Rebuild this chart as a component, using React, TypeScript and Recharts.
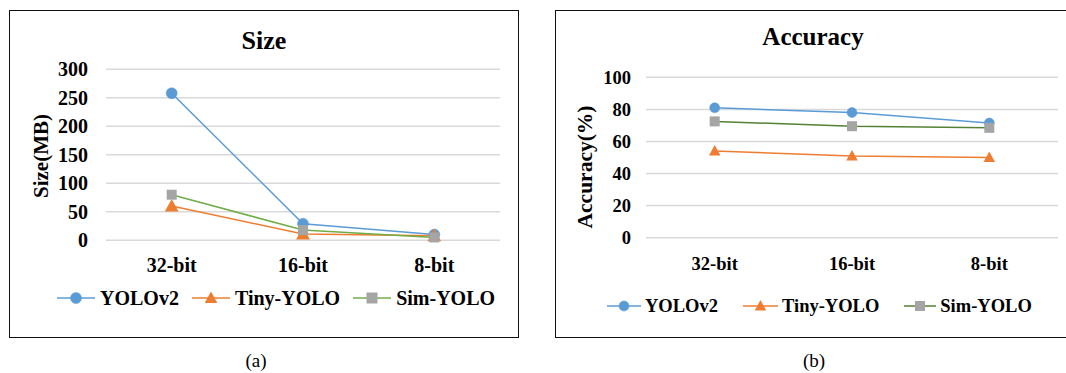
import React from 'react';
import { LineChart, Line, XAxis, YAxis, CartesianGrid, Legend } from 'recharts';

const categories = ['32-bit', '16-bit', '8-bit'];
const seriesNames = ['YOLOv2', 'Tiny-YOLO', 'Sim-YOLO'];

const sizeYOLOv2 = [258, 29, 10];
const sizeTinyYOLO = [60, 11, 8];
const sizeSimYOLO = [80, 18, 5];

const accYOLOv2 = [81, 78, 71.5];
const accTinyYOLO = [54, 51, 50];
const accSimYOLO = [72.5, 69.5, 68.5];

const sizeTicks = [0, 50, 100, 150, 200, 250, 300];
const accTicks = [0, 20, 40, 60, 80, 100];

const sizeData = categories.map((c, i) => ({
  cat: c,
  YOLOv2: sizeYOLOv2[i],
  'Tiny-YOLO': sizeTinyYOLO[i],
  'Sim-YOLO': sizeSimYOLO[i],
}));
const accData = categories.map((c, i) => ({
  cat: c,
  YOLOv2: accYOLOv2[i],
  'Tiny-YOLO': accTinyYOLO[i],
  'Sim-YOLO': accSimYOLO[i],
}));

const FONT = "'Liberation Serif', Tinos, 'DejaVu Serif', 'Noto Serif', 'Times New Roman', Times, serif";
const BLUE = '#5B9BD5';
const ORANGE = '#ED7D31';
const GRAY = '#A5A5A5';
const GREEN_L = '#70AD47';
const GREEN_R = '#548235';

type Shape = 'circle' | 'triangle' | 'square';
const shapes: Shape[] = ['circle', 'triangle', 'square'];

function Marker({ cx, cy, shape, color, size }: { cx: number; cy: number; shape: Shape; color: string; size: number }) {
  if (shape === 'circle') return <circle cx={cx} cy={cy} r={size / 2} fill={color} stroke={color} strokeWidth={0.5} />;
  if (shape === 'square')
    return <rect x={cx - size / 2} y={cy - size / 2} width={size} height={size} fill={color} />;
  const h = size * 1.0;
  const w = size * 1.15;
  return (
    <path
      d={`M ${cx} ${cy - h * 0.6} L ${cx + w / 2} ${cy + h * 0.45} L ${cx - w / 2} ${cy + h * 0.45} Z`}
      fill={color}
    />
  );
}

function makeDot(shape: Shape, color: string, size: number) {
  return (p: any) => (
    <Marker key={`d-${shape}-${p.index}`} cx={p.cx} cy={p.cy} shape={shape} color={color} size={size} />
  );
}

function makeLegend(opts: {
  fontSize: number;
  lineWidths: number[];
  textGaps: number;
  itemGaps: number[];
  markerColors: string[];
  lineColors: string[];
  markerSize: number;
}) {
  return () => (
    <div style={{ display: 'flex', alignItems: 'center', height: 20, fontFamily: FONT }}>
      {seriesNames.map((n, i) => (
        <div key={n} style={{ display: 'flex', alignItems: 'center', marginRight: opts.itemGaps[i] }}>
          <svg width={opts.lineWidths[i]} height={20} style={{ display: 'block' }}>
            <line x1={0} x2={opts.lineWidths[i]} y1={10} y2={10} stroke={opts.lineColors[i]} strokeWidth={1.5} />
            <Marker cx={opts.lineWidths[i] / 2} cy={10} shape={shapes[i]} color={opts.markerColors[i]} size={opts.markerSize} />
          </svg>
          <span
            style={{
              marginLeft: opts.textGaps,
              fontSize: opts.fontSize,
              fontWeight: 'bold',
              color: '#000',
              lineHeight: '20px',
              whiteSpace: 'nowrap',
              fontFamily: FONT,
            }}
          >
            {n}
          </span>
        </div>
      ))}
    </div>
  );
}

function makeYLabel(text: string, cx: number, cy: number, fontSize: number) {
  return () => (
    <text
      x={cx}
      y={cy}
      transform={`rotate(-90, ${cx}, ${cy})`}
      textAnchor="middle"
      dominantBaseline="central"
      style={{ fontFamily: FONT, fontWeight: 'bold', fontSize }}
      fill="#000"
    >
      {text}
    </text>
  );
}

const tickStyleL = { fill: '#000', fontSize: 20, fontWeight: 'bold', fontFamily: FONT, style: { fontFamily: FONT } };
const tickStyleR = { fill: '#000', fontSize: 18.5, fontWeight: 'bold', fontFamily: FONT, style: { fontFamily: FONT } };

export default function App() {
  const leftLegend = makeLegend({
    fontSize: 20,
    lineWidths: [38, 38, 38],
    textGaps: 5,
    itemGaps: [13, 13, 0],
    markerColors: [BLUE, ORANGE, GRAY],
    lineColors: [BLUE, ORANGE, GREEN_L],
    markerSize: 11,
  });
  const rightLegend = makeLegend({
    fontSize: 18.5,
    lineWidths: [34, 35, 32],
    textGaps: 4,
    itemGaps: [25, 25, 0],
    markerColors: [BLUE, ORANGE, GRAY],
    lineColors: [BLUE, ORANGE, GREEN_R],
    markerSize: 10,
  });

  return (
    <div
      style={{
        position: 'absolute',
        left: 0,
        top: 0,
        width: 1066,
        height: 373,
        background: '#fff',
        overflow: 'hidden',
        fontFamily: FONT,
      }}
    >
      {/* Panel borders */}
      <div
        style={{
          position: 'absolute',
          left: 9,
          top: 10,
          width: 510,
          height: 328,
          border: '1.5px solid #111',
          boxSizing: 'border-box',
        }}
      />
      <div
        style={{
          position: 'absolute',
          left: 555,
          top: 10,
          width: 530,
          height: 328,
          border: '1.5px solid #111',
          boxSizing: 'border-box',
        }}
      />

      {/* Titles */}
      <div
        style={{
          position: 'absolute',
          left: 164,
          width: 200,
          top: 27.5,
          textAlign: 'center',
          fontSize: 26,
          lineHeight: '26px',
          fontWeight: 'bold',
          fontFamily: FONT,
        }}
      >
        Size
      </div>
      <div
        style={{
          position: 'absolute',
          left: 713,
          width: 200,
          top: 24,
          textAlign: 'center',
          fontSize: 25,
          lineHeight: '25px',
          fontWeight: 'bold',
          fontFamily: FONT,
        }}
      >
        Accuracy
      </div>

      {/* Left chart */}
      <div style={{ position: 'absolute', left: 0, top: 0 }}>
        <LineChart
          width={530}
          height={373}
          data={sizeData}
          margin={{ top: 69.3, right: 30, bottom: 102.7, left: 0 }}
          style={{ fontFamily: FONT }}
        >
          <CartesianGrid horizontal vertical={false} stroke="#D9D9D9" strokeWidth={1.5} />
          <XAxis
            dataKey="cat"
            axisLine={false}
            tickLine={false}
            tickSize={0}
            tickMargin={17}
            height={30}
            interval={0}
            padding={{ left: 65.7, right: 65.7 }}
            tick={tickStyleL}
          />
          <YAxis
            width={106}
            domain={[0, 300]}
            ticks={sizeTicks}
            interval={0}
            axisLine={false}
            tickLine={false}
            tickSize={0}
            tickMargin={18}
            tick={tickStyleL}
            label={{ content: makeYLabel('Size(MB)', 41, 156, 21) }}
          />
          <Legend
            layout="horizontal"
            verticalAlign="middle"
            align="center"
            content={leftLegend}
            wrapperStyle={{ left: 57, top: 288, width: 470, height: 20 }}
          />
          <Line
            dataKey="YOLOv2"
            stroke={BLUE}
            strokeWidth={1.5}
            dot={makeDot('circle', BLUE, 11)}
            isAnimationActive={false}
          />
          <Line
            dataKey="Tiny-YOLO"
            stroke={ORANGE}
            strokeWidth={1.5}
            dot={makeDot('triangle', ORANGE, 12)}
            isAnimationActive={false}
          />
          <Line
            dataKey="Sim-YOLO"
            stroke={GREEN_L}
            strokeWidth={1.5}
            dot={makeDot('square', GRAY, 10)}
            isAnimationActive={false}
          />
        </LineChart>
      </div>

      {/* Right chart */}
      <div style={{ position: 'absolute', left: 536, top: 0 }}>
        <LineChart
          width={530}
          height={373}
          data={accData}
          margin={{ top: 77.3, right: 8, bottom: 105.3, left: 0 }}
          style={{ fontFamily: FONT }}
        >
          <CartesianGrid horizontal vertical={false} stroke="#D9D9D9" strokeWidth={1.5} />
          <XAxis
            dataKey="cat"
            axisLine={false}
            tickLine={false}
            tickSize={0}
            tickMargin={19}
            height={30}
            interval={0}
            padding={{ left: 68.7, right: 68.7 }}
            tick={tickStyleR}
          />
          <YAxis
            width={110}
            domain={[0, 100]}
            ticks={accTicks}
            interval={0}
            axisLine={false}
            tickLine={false}
            tickSize={0}
            tickMargin={15}
            tick={tickStyleR}
            label={{ content: makeYLabel('Accuracy(%)', 49, 167, 21.5) }}
          />
          <Legend
            layout="horizontal"
            verticalAlign="middle"
            align="center"
            content={rightLegend}
            wrapperStyle={{ left: 71, top: 296, width: 460, height: 20 }}
          />
          <Line
            dataKey="YOLOv2"
            stroke={BLUE}
            strokeWidth={1.5}
            dot={makeDot('circle', BLUE, 10)}
            isAnimationActive={false}
          />
          <Line
            dataKey="Tiny-YOLO"
            stroke={ORANGE}
            strokeWidth={1.5}
            dot={makeDot('triangle', ORANGE, 10)}
            isAnimationActive={false}
          />
          <Line
            dataKey="Sim-YOLO"
            stroke={GREEN_R}
            strokeWidth={1.5}
            dot={makeDot('square', GRAY, 10)}
            isAnimationActive={false}
          />
        </LineChart>
      </div>

      {/* Captions */}
      <div
        style={{ position: 'absolute', left: 206, width: 100, top: 351, textAlign: 'center', fontSize: 19, lineHeight: '19px', fontFamily: FONT }}
      >
        (a)
      </div>
      <div
        style={{ position: 'absolute', left: 764, width: 100, top: 351, textAlign: 'center', fontSize: 19, lineHeight: '19px', fontFamily: FONT }}
      >
        (b)
      </div>
    </div>
  );
}
